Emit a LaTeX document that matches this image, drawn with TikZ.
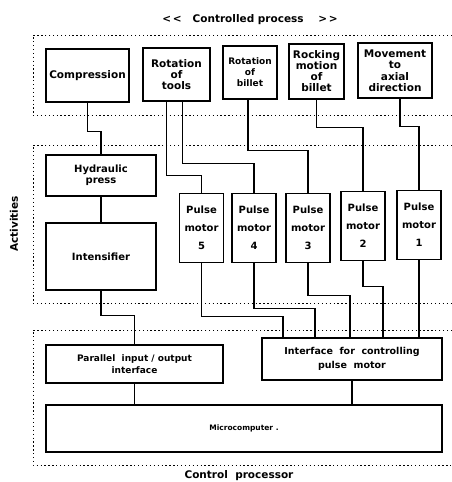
\documentclass[tikz,border=0pt]{standalone}
\usepackage{fontspec}
\setmainfont{DejaVu Sans}
\newcommand{\fs}[2]{\bfseries\fontsize{#1}{#2}\selectfont}
\tikzset{
  procbox/.style={draw, line width=1.1pt, align=center, inner sep=1pt,
    font=\fs{10}{11}},
  pulsebox/.style={procbox, minimum width=44pt, minimum height=69pt, anchor=north,
    font=\fs{10}{18}},
  wire/.style={line width=1.1pt},
  area/.style={line width=1pt, dash pattern=on 1.3pt off 2.6pt},
  caption/.style={font=\fs{10.5}{12}},
}
\begin{document}
\begin{tikzpicture}[x=1pt,y=-1pt]
\useasboundingbox (0,0) rectangle (452,482);

% dotted regions
\draw[area] (452,35) -- (33,35) -- (33,115) -- (452,115);
\draw[area] (452,145) -- (33,145) -- (33,303) -- (452,303);
\draw[area] (452,330) -- (33,330) -- (33,465) -- (452,465);

% region labels
\node[caption] (procname) at (250,20) {{<}\,{<}~~~Controlled process~~~~{>}\,{>}};
\node[caption, rotate=90] (actname) at (14,224) {Activities};
\node[caption] (ctrlname) at (239,476) {Control~~processor};

% controlled process
\node[procbox, minimum width=83pt, minimum height=53pt, font=\fs{10.5}{11}] (comp) at (87.5,75.5) {Compression};
\node[procbox, minimum width=67pt, minimum height=53pt, font=\fs{10.5}{11}] (rottools) at (176.5,74.5) {Rotation\\of\\tools};
\node[procbox, minimum width=54pt, minimum height=53pt, font=\fs{9}{11}] (rotbillet) at (250,72.5) {Rotation\\of\\billet};
\node[procbox, minimum width=55pt, minimum height=55pt, font=\fs{10.5}{11}] (rocking) at (316.5,71.5) {Rocking\\motion\\of\\billet};
\node[procbox, minimum width=74pt, minimum height=55pt, font=\fs{10.5}{11.5}] (movement) at (395,70.5) {Movement\\to\\axial\\direction};

% activities
\node[procbox, minimum width=110pt, minimum height=41pt] (hydpress) at (101,175.5) {Hydraulic\\press};
\node[procbox, minimum width=110pt, minimum height=67pt] (intens) at (101,256.5) {Intensifier};
\foreach \i/\x/\t in {5/201.5/193, 4/254/193, 3/308/193, 2/363/191, 1/419/190}
  \node[pulsebox] (pm\i) at (\x,\t) {Pulse\\motor\\\i};

% control processor
\node[procbox, minimum width=177pt, minimum height=38pt, font=\fs{9}{12}] (parallel) at (134.5,364) {Parallel~~input~/~output\\interface};
\node[procbox, minimum width=180pt, minimum height=42pt, font=\fs{9.5}{14}] (ifpm) at (352,359) {Interface~~for~~controlling\\pulse~~motor};
\node[procbox, minimum width=396pt, minimum height=47pt, font=\fs{7.5}{10}] (micro) at (244,428.5) {Microcomputer .};

% process to activities
\draw[wire] (comp.south) -- ++(0,29) -| (hydpress.north);
\draw[wire] ([xshift=-10pt]rottools.south) -- ++(0,74) -| (pm5.north);
\draw[wire] ([xshift=6pt]rottools.south) -- ++(0,62) -| (pm4.north);
\draw[wire] ([xshift=-2pt]rotbillet.south) -- ++(0,51) -| (pm3.north);
\draw[wire] (rocking.south) -- ++(0,28) -| (pm2.north);
\draw[wire] ([xshift=5pt]movement.south) -- ++(0,28) -| (pm1.north);
\draw[wire] (hydpress) -- (intens);

% activities to control processor
\draw[wire] (intens.south) -- ++(0,25) -| (parallel.north);
\draw[wire] (pm5.south) -- ++(0,53) -| ([xshift=-69pt]ifpm.north);
\draw[wire] (pm4.south) -- ++(0,45) -| ([xshift=-37pt]ifpm.north);
\draw[wire] (pm3.south) -- ++(0,32) -| ([xshift=-2pt]ifpm.north);
\draw[wire] (pm2.south) -- ++(0,25) -| ([xshift=31pt]ifpm.north);
\draw[wire] (pm1.south) -- (pm1.south |- ifpm.north);
\draw[wire] (parallel.south) -- (parallel.south |- micro.north);
\draw[wire] (ifpm.south) -- (ifpm.south |- micro.north);

\end{tikzpicture}
\end{document}
